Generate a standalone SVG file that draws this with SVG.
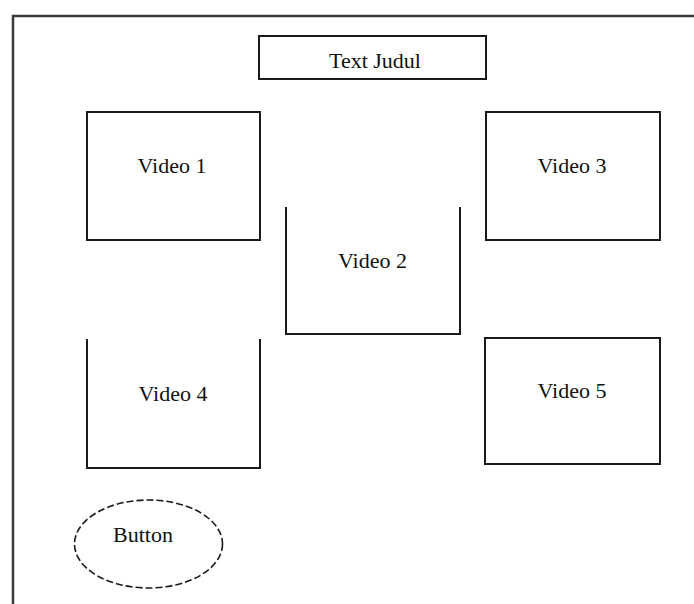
<svg xmlns="http://www.w3.org/2000/svg" width="694" height="604" viewBox="0 0 694 604">
  <style>
    .frame { fill: none; stroke: #3a3a3a; stroke-width: 2.5; }
    .box { fill: none; stroke: #1a1a1a; stroke-width: 2; }
    .btn { fill: none; stroke: #1a1a1a; stroke-width: 1.6; stroke-dasharray: 7 3; }
    .lbl { font-family: "Liberation Serif", "Times New Roman", serif; font-size: 22px; fill: #111; text-anchor: middle; }
  </style>
  <rect width="694" height="604" fill="#ffffff"/>

  <!-- page frame: top and left edges -->
  <path class="frame" d="M13 604 V16 H694"/>

  <g id="title">
    <rect class="box" x="259" y="36" width="227" height="43"/>
    <text class="lbl" x="375" y="68">Text Judul</text>
  </g>

  <g id="video1">
    <rect class="box" x="87" y="112" width="173" height="128"/>
    <text class="lbl" x="172" y="173">Video 1</text>
  </g>

  <g id="video2">
    <path class="box" d="M286 207 V334 H460 V207"/>
    <text class="lbl" x="372.5" y="268">Video 2</text>
  </g>

  <g id="video3">
    <rect class="box" x="486" y="112" width="174" height="128"/>
    <text class="lbl" x="572" y="173">Video 3</text>
  </g>

  <g id="video4">
    <path class="box" d="M87 339 V468 H260 V339"/>
    <text class="lbl" x="173" y="401">Video 4</text>
  </g>

  <g id="video5">
    <rect class="box" x="485" y="338" width="175" height="126"/>
    <text class="lbl" x="572" y="398">Video 5</text>
  </g>

  <g id="button">
    <ellipse class="btn" cx="148.5" cy="544" rx="74" ry="44"/>
    <text class="lbl" x="143" y="542">Button</text>
  </g>

  <g id="connectors"/>
</svg>
